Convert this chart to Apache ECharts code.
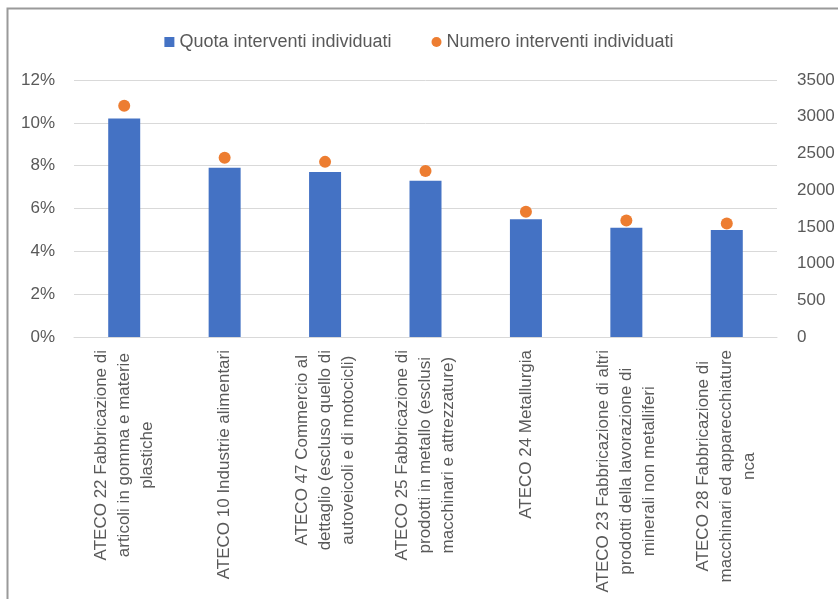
<!DOCTYPE html>
<html>
<head>
<meta charset="utf-8">
<script src="https://cdn.jsdelivr.net/npm/echarts@6/dist/echarts.min.js"></script>
<style>
  html, body { margin: 0; padding: 0; background: #fff; }
  #chart { width: 838px; height: 599px; }
</style>
</head>
<body>
<div id="chart"></div>
<script>
const categories = [
  "ATECO 22 Fabbricazione di\narticoli in gomma e materie\nplastiche",
  "ATECO 10 Industrie alimentari",
  "ATECO 47 Commercio al\ndettaglio (escluso quello di\nautoveicoli e di motocicli)",
  "ATECO 25 Fabbricazione di\nprodotti in metallo (esclusi\nmacchinari e attrezzature)",
  "ATECO 24 Metallurgia",
  "ATECO 23 Fabbricazione di altri\nprodotti della lavorazione di\nminerali non metalliferi",
  "ATECO 28 Fabbricazione di\nmacchinari ed apparecchiature\nnca"
];
// quota (%) - left axis
const quota = [10.2, 7.9, 7.7, 7.3, 5.5, 5.1, 5.0];
// numero - right axis
const numero = [3150, 2440, 2385, 2260, 1705, 1585, 1545];

const seriesNames = ["Quota interventi individuati", "Numero interventi individuati"];

const textColor = "#595959";
const font = "Liberation Sans";

const myChart = echarts.init(document.getElementById("chart"));

const option = {
  animation: false,
  textStyle: { fontFamily: font },
  graphic: [
    {
      type: "polyline",
      shape: { points: [[7.5, 599], [7.5, 8.5], [838, 8.5]] },
      style: { stroke: "#9a9a9a", lineWidth: 2, fill: null },
      silent: true
    }
  ],
  legend: {
    top: 28,
    left: "center",
    itemGap: 40,
    itemWidth: 10,
    itemHeight: 10,
    textStyle: { color: textColor, fontSize: 18, fontFamily: font },
    data: [
      { name: seriesNames[0], icon: "rect" },
      { name: seriesNames[1], icon: "circle" }
    ]
  },
  grid: {
    left: 74,
    right: 61,
    top: 80,
    bottom: 262
  },
  xAxis: {
    type: "category",
    data: categories,
    axisTick: { show: false },
    axisLine: { lineStyle: { color: "#d9d9d9", width: 1 } },
    axisLabel: {
      interval: 0,
      rotate: 90,
      margin: 13,
      color: textColor,
      fontSize: 17,
      lineHeight: 23,
      formatter: (value) => value.split("\n").map((l) => "{c|" + l + "}").join("\n"),
      rich: {
        c: { align: "center", color: textColor, fontSize: 17, lineHeight: 23, fontFamily: font }
      }
    }
  },
  yAxis: [
    {
      type: "value",
      min: 0,
      max: 12,
      interval: 2,
      axisLabel: {
        formatter: "{value}%",
        color: textColor,
        fontSize: 17,
        margin: 19
      },
      axisLine: { show: false },
      axisTick: { show: false },
      splitLine: { lineStyle: { color: "#d9d9d9", width: 1 } }
    },
    {
      type: "value",
      min: 0,
      max: 3500,
      interval: 500,
      position: "right",
      axisLabel: {
        formatter: (v) => String(v),
        color: textColor,
        fontSize: 17,
        margin: 20
      },
      axisLine: { show: false },
      axisTick: { show: false },
      splitLine: { show: false }
    }
  ],
  series: [
    {
      name: seriesNames[0],
      type: "bar",
      data: quota,
      barWidth: 32,
      color: "#4472C4",
      yAxisIndex: 0
    },
    {
      name: seriesNames[1],
      type: "scatter",
      data: numero,
      symbol: "circle",
      symbolSize: 12,
      color: "#ED7D31",
      itemStyle: { opacity: 1 },
      yAxisIndex: 1
    }
  ]
};

myChart.setOption(option);
</script>
</body>
</html>
